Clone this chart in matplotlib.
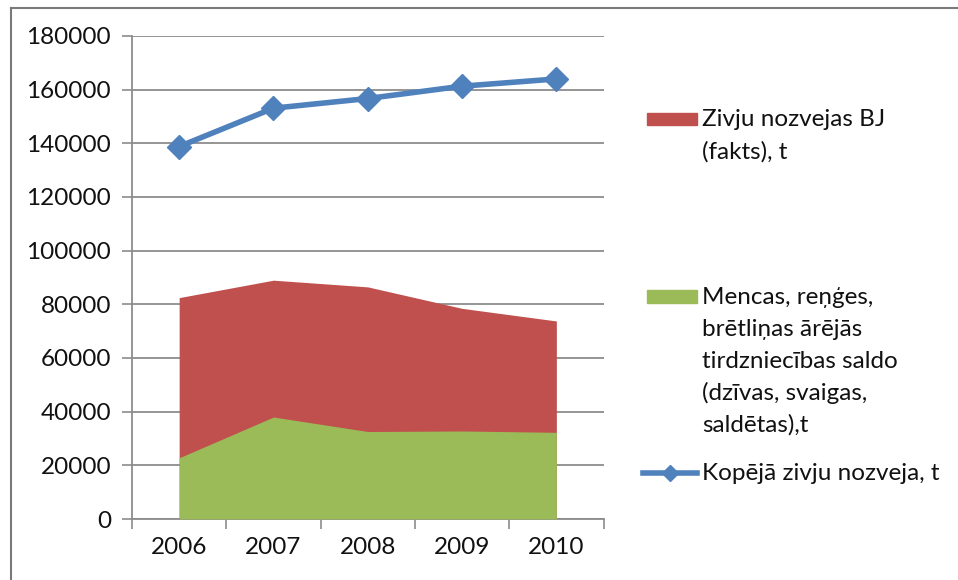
import numpy as np
import matplotlib.pyplot as plt
from matplotlib.patches import Rectangle
from matplotlib.lines import Line2D

plt.rcParams['font.family'] = ['Lato', 'DejaVu Sans']

years = ['2006', '2007', '2008', '2009', '2010']
nozveja_bj = [82500, 89000, 86500, 78500, 73800]        # red area
mencas_saldo = [22800, 38000, 32600, 32800, 32300]      # green area
kopeja = [138800, 153100, 156700, 161300, 164000]       # blue line

lbl_red = ['Zivju nozvejas BJ', '(fakts), t']
lbl_green = ['Mencas, reņģes,', 'brētliņas ārējās', 'tirdzniecības saldo',
             '(dzīvas, svaigas,', 'saldētas),t']
lbl_blue = ['Kopējā zivju nozveja, t']

c_red = '#C0504D'
c_green = '#9BBB59'
c_blue = '#4F81BD'
c_grid = '#8C8C8C'
c_txt = '#111111'

W, H = 958, 580
fig = plt.figure(figsize=(W / 100, H / 100), dpi=100)
ax = fig.add_axes([132 / W, 1 - 519 / H, (603.5 - 132) / W, (519 - 36) / H])

x = np.arange(len(years))
ax.fill_between(x, nozveja_bj, color=c_red, lw=0, zorder=2)
ax.fill_between(x, mencas_saldo, color=c_green, lw=0, zorder=3)
ax.plot(x, kopeja, color=c_blue, lw=4, marker='D', ms=12, zorder=4)

ax.set_xlim(-0.5, len(years) - 0.5)
ax.set_ylim(0, 180000)
ax.set_yticks(np.arange(0, 180001, 20000))
ax.yaxis.grid(True, color=c_grid, lw=1.3, zorder=1)

fs = 17.5
ax.set_xticks(np.arange(-0.5, len(years), 1))
ax.set_xticklabels([])
ax.set_xticks(x, minor=True)
ax.set_xticklabels(years, minor=True)
ax.tick_params(axis='x', which='major', length=7, width=1.2, color=c_grid, direction='out')
ax.tick_params(axis='x', which='minor', length=0, pad=13, labelsize=fs, labelcolor=c_txt)
ax.tick_params(axis='y', length=7, width=1.2, color=c_grid, pad=8, labelsize=fs, labelcolor=c_txt)

for s in ['top', 'right']:
    ax.spines[s].set_visible(False)
ax.spines['left'].set_color(c_grid)
ax.spines['bottom'].set_color(c_grid)
ax.spines['left'].set_linewidth(1.3)
ax.spines['bottom'].set_linewidth(1.3)

# outer frame (left and top edges only visible)
fig.add_artist(Line2D([11 / W, 11 / W], [0, 1 - 8 / H], color='#7a7a7a', lw=1.5))
fig.add_artist(Line2D([11 / W, 1], [1 - 8 / H, 1 - 8 / H], color='#7a7a7a', lw=1.5))

# legend drawn by hand, Excel style
def fx(px):
    return px / W

def fy(py):
    return 1 - py / H

fig.add_artist(Rectangle((fx(647), fy(125)), fx(697) - fx(647), fy(113) - fy(125),
                         color=c_red, transform=fig.transFigure))
for i, t in enumerate(lbl_red):
    fig.text(fx(702), fy(120 + 32 * i), t, fontsize=fs, va='center', color=c_txt)

fig.add_artist(Rectangle((fx(647), fy(303)), fx(697) - fx(647), fy(290) - fy(303),
                         color=c_green, transform=fig.transFigure))
for i, t in enumerate(lbl_green):
    fig.text(fx(702), fy(297 + 32 * i), t, fontsize=fs, va='center', color=c_txt)

fig.add_artist(Line2D([fx(643), fx(697)], [fy(473), fy(473)], color=c_blue, lw=4))
fig.add_artist(Line2D([fx(670)], [fy(473)], color=c_blue, marker='D', ms=8))
fig.text(fx(702), fy(473), lbl_blue[0], fontsize=fs, va='center', color=c_txt)

plt.savefig('out.png', dpi=100)
